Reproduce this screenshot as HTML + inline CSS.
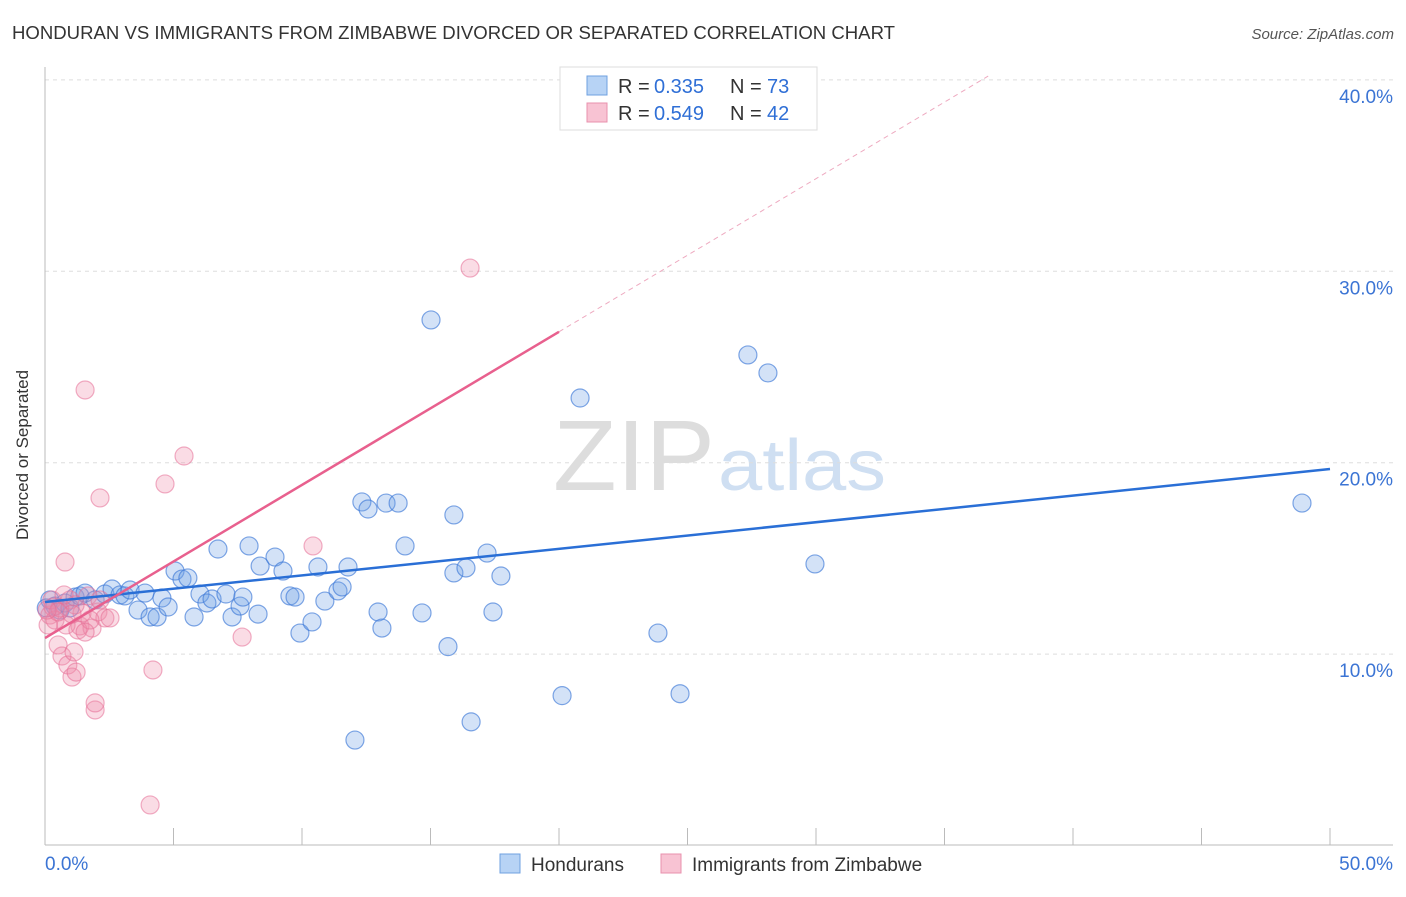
<!DOCTYPE html>
<html><head><meta charset="utf-8"><style>
body{margin:0;background:#fff;font-family:"Liberation Sans",sans-serif;}
svg text{font-family:"Liberation Sans",sans-serif;}
</style></head><body>
<svg width="1406" height="892" id="c">
<text x="12" y="39" font-size="18" fill="#333" textLength="883" lengthAdjust="spacingAndGlyphs">HONDURAN VS IMMIGRANTS FROM ZIMBABWE DIVORCED OR SEPARATED CORRELATION CHART</text>
<text x="1394" y="39" font-size="15" fill="#555" text-anchor="end" font-style="italic">Source: ZipAtlas.com</text>
<text x="28" y="455" font-size="17" fill="#333" text-anchor="middle" transform="rotate(-90 28 455)">Divorced or Separated</text>
<text x="553" y="490" font-size="100" fill="#ddd" textLength="162" lengthAdjust="spacingAndGlyphs" font-family="Liberation Serif">ZIP</text>
<text x="718" y="490" font-size="72" fill="#cfdff2" textLength="168" lengthAdjust="spacingAndGlyphs">atlas</text>
<g id="grid"></g><g id="pts"></g><g id="lines"></g>
<g>
<rect x="560" y="67" width="257" height="63" fill="#fff" stroke="#ddd"/>
<rect x="587" y="76" width="20" height="19" fill="#b7d3f5" stroke="#6fa0e0"/>
<rect x="587" y="103" width="20" height="19" fill="#f8c3d3" stroke="#e890ae"/>
<text x="618" y="93" font-size="20" fill="#333">R =</text>
<text x="654" y="93" font-size="20" fill="#2f6fd6">0.335</text>
<text x="730" y="93" font-size="20" fill="#333">N =</text>
<text x="767" y="93" font-size="20" fill="#2f6fd6">73</text>
<text x="618" y="120" font-size="20" fill="#333">R =</text>
<text x="654" y="120" font-size="20" fill="#2f6fd6">0.549</text>
<text x="730" y="120" font-size="20" fill="#333">N =</text>
<text x="767" y="120" font-size="20" fill="#2f6fd6">42</text>
</g>
<g>
<rect x="500" y="854" width="20" height="19" fill="#b7d3f5" stroke="#6fa0e0"/>
<text x="531" y="871" font-size="19" fill="#333">Hondurans</text>
<rect x="661" y="854" width="20" height="19" fill="#f8c3d3" stroke="#e890ae"/>
<text x="692" y="871" font-size="19" fill="#333">Immigrants from Zimbabwe</text>
</g>
</svg>
<script>
const yTicks=[10,20,30,40];
const xTickLabels=["0.0%","50.0%"];
const blueX=[0.19,0.39,0.58,0.78,0.97,1.17,1.36,1.56,1.95,2.33,2.61,2.92,3.11,3.31,3.62,3.89,4.09,4.36,4.55,4.79,5.06,5.33,5.56,5.80,6.03,6.30,6.50,6.73,7.04,7.28,7.59,7.70,7.94,8.29,8.37,8.95,9.26,9.53,9.73,9.92,10.39,10.62,10.89,11.40,11.56,11.79,12.06,12.33,12.57,12.96,13.11,13.27,13.74,14.01,14.67,15.02,15.68,15.91,15.91,16.38,16.58,17.20,17.43,17.74,20.12,20.82,23.85,24.71,27.35,28.13,29.96,48.91,0.05];
const blueY=[12.83,12.51,12.30,12.67,12.41,12.98,13.04,13.19,12.83,13.14,13.40,13.09,13.04,13.35,12.30,13.19,11.94,11.94,12.93,12.46,14.34,13.92,13.98,11.94,13.14,12.67,12.88,15.49,13.14,11.94,12.51,12.98,15.65,12.09,14.60,15.07,14.34,13.04,12.98,11.10,11.68,14.55,12.77,13.30,13.51,14.55,5.51,17.95,17.58,12.20,11.36,17.89,17.89,15.65,12.15,27.46,10.39,17.27,14.24,14.50,6.46,15.28,12.20,14.08,7.83,23.38,11.10,7.93,25.63,24.69,14.71,17.89,12.41];
const pinkX=[0.19,0.31,0.39,0.51,0.66,0.78,0.89,1.05,1.21,1.36,1.44,1.56,1.67,1.83,1.95,1.95,2.06,2.14,2.33,2.53,4.09,4.20,4.67,5.41,7.67,10.43,16.54,0.12,0.27,0.58,0.82,0.97,1.17,1.28,1.13,1.75,0.74,0.51,1.05,1.56,2.14,0.08];
const pinkY=[12.04,12.46,11.78,10.48,9.90,14.81,9.43,8.80,9.06,11.47,12.15,23.80,13.04,11.36,7.08,7.45,12.20,18.16,11.89,11.89,2.12,9.17,18.89,20.35,10.89,15.65,30.17,11.52,12.83,12.41,11.52,12.83,12.57,11.26,10.11,11.78,13.09,12.20,12.09,11.15,12.83,12.30];
const blueFit=[12.72,0.139];
const pinkFit=[10.84,0.80];
const X=v=>45+v*25.7, Y=v=>845.5-v*19.14;
const NS="http://www.w3.org/2000/svg";
function mk(p,t,a){const e=document.createElementNS(NS,t);for(const k in a)e.setAttribute(k,a[k]);p.appendChild(e);return e;}
const g=document.getElementById('grid');
yTicks.forEach(t=>{
 const l=mk(g,'line',{x1:45,x2:1393,y1:Y(t),y2:Y(t),stroke:'#ddd','stroke-dasharray':'4,4'});
 
 
 const tx=mk(g,'text',{x:1393,y:Y(t)+23,'font-size':19,fill:'#3b74d4','text-anchor':'end'});tx.textContent=t.toFixed(1)+'%';
 
 
});
let a=mk(g,'line',{x1:45,x2:45,y1:67,y2:845,stroke:'#bbb'});


a=mk(g,'line',{x1:45,x2:1393,y1:845,y2:845,stroke:'#bbb'});


for(let i=0;i<=10;i++){const t=mk(g,'line',{x1:X(i*5),x2:X(i*5),y1:828,y2:845,stroke:'#bbb'});
 
 }
[[0,'start',45],[1,'end',1393]].forEach(([i,an,x])=>{const t=mk(g,'text',{x:x,y:870,'font-size':19,fill:'#3b74d4','text-anchor':an});t.textContent=xTickLabels[i];
 
 });
const p=document.getElementById('pts');
blueX.forEach((x,i)=>{const c=mk(p,'circle',{cx:X(x),cy:Y(blueY[i]),r:9,fill:'rgba(110,160,230,0.3)',stroke:'rgba(60,120,215,0.65)','stroke-width':1.2});
 
 });
pinkX.forEach((x,i)=>{const c=mk(p,'circle',{cx:X(x),cy:Y(pinkY[i]),r:9,fill:'rgba(240,140,170,0.3)',stroke:'rgba(230,110,150,0.55)','stroke-width':1.2});
 
 });
const L=document.getElementById('lines');
let l=mk(L,'line',{x1:X(0),y1:Y(blueFit[0]),x2:X(50),y2:Y(blueFit[0]+50*blueFit[1]),stroke:'#2a6fd6','stroke-width':2.5});


l=mk(L,'line',{x1:X(0),y1:Y(pinkFit[0]),x2:X(20),y2:Y(pinkFit[0]+20*pinkFit[1]),stroke:'#e8608e','stroke-width':2.5});


const xe=(40.2-pinkFit[0])/pinkFit[1];
l=mk(L,'line',{x1:X(20),y1:Y(pinkFit[0]+20*pinkFit[1]),x2:X(xe),y2:Y(40.2),stroke:'#eeaac0','stroke-width':1,'stroke-dasharray':'5,4'});


</script>
</body></html>
